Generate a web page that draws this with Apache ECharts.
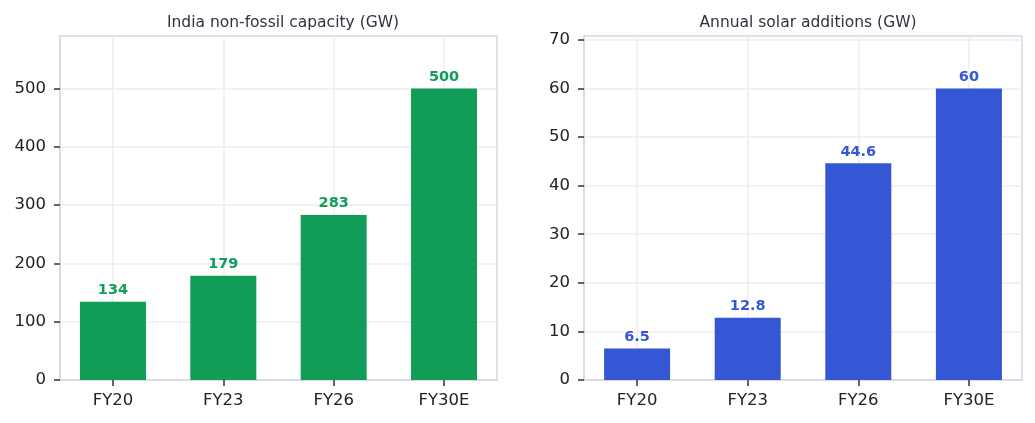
<!DOCTYPE html>
<html>
<head>
<meta charset="utf-8">
<script src="https://cdn.jsdelivr.net/npm/echarts@6/dist/echarts.min.js"></script>
<style>
    html, body { margin: 0; padding: 0; background: #fff; }
    #chart { width: 1035px; height: 423px; }
</style>
</head>
<body>
<div id="chart"></div>
<script>
var categories = ["FY20", "FY23", "FY26", "FY30E"];
var capacityValues = [134, 179, 283, 500];
var solarValues = [6.5, 12.8, 44.6, 60];
var capacityTicks = [0, 100, 200, 300, 400, 500];
var solarTicks = [0, 10, 20, 30, 40, 50, 60, 70];
var titles = ["India non-fossil capacity (GW)", "Annual solar additions (GW)"];

var green = "#119d58";
var blue = "#3557d5";
var frameColor = "#d3d8e2";
var gridColor = "#eceef3";
var tickColor = "#333";
var font = "'DejaVu Sans'";

var myChart = echarts.init(document.getElementById("chart"));

function xAxisFor(idx) {
    return {
        type: "value",
        gridIndex: idx,
        min: -0.48,
        max: 3.48,
        axisLine: { show: true, onZero: false, lineStyle: { color: frameColor, width: 1.5 } },
        axisTick: {
            show: true,
            inside: false,
            length: 6,
            customValues: [0, 1, 2, 3],
            lineStyle: { color: tickColor, width: 1.5 }
        },
        axisLabel: {
            customValues: [0, 1, 2, 3],
            formatter: function (v) { return categories[Math.round(v)]; },
            margin: 12,
            fontFamily: font,
            fontSize: 16.5,
            color: "#222"
        },
        splitLine: { show: true, lineStyle: { color: gridColor, width: 1.5 } }
    };
}

function yAxisFor(idx, max, ticks) {
    return {
        type: "value",
        gridIndex: idx,
        min: 0,
        max: max,
        axisLine: { show: true, onZero: false, lineStyle: { color: frameColor, width: 1.5 } },
        axisTick: {
            show: true,
            length: 6,
            customValues: ticks,
            lineStyle: { color: tickColor, width: 1.5 }
        },
        axisLabel: {
            customValues: ticks,
            margin: 14,
            fontFamily: font,
            fontSize: 16.5,
            color: "#222"
        },
        splitLine: { show: true, lineStyle: { color: gridColor, width: 1.5 } }
    };
}

function barSeries(idx, values, color) {
    return {
        type: "bar",
        xAxisIndex: idx,
        yAxisIndex: idx,
        barWidth: 66,
        data: values.map(function (v, i) { return [i, v]; }),
        itemStyle: { color: color },
        label: {
            show: true,
            position: "top",
            distance: 4,
            formatter: function (p) { return p.value[1]; },
            fontFamily: font,
            fontWeight: "bold",
            fontSize: 14.5,
            color: color
        }
    };
}

var option = {
    animation: false,
    title: [
        {
            text: titles[0],
            left: 278, top: 10, textAlign: "center",
            textStyle: { fontFamily: font, fontSize: 15.5, fontWeight: "normal", color: "#2d3340" }
        },
        {
            text: titles[1],
            left: 803, top: 10, textAlign: "center",
            textStyle: { fontFamily: font, fontSize: 15.5, fontWeight: "normal", color: "#2d3340" }
        }
    ],
    grid: [
        { left: 60, right: 538, top: 36, bottom: 43, show: true, borderColor: frameColor, borderWidth: 1.5 },
        { left: 584, right: 13, top: 36, bottom: 43, show: true, borderColor: frameColor, borderWidth: 1.5 }
    ],
    xAxis: [xAxisFor(0), xAxisFor(1)],
    yAxis: [yAxisFor(0, 590, capacityTicks), yAxisFor(1, 70.8, solarTicks)],
    series: [
        barSeries(0, capacityValues, green),
        barSeries(1, solarValues, blue)
    ]
};

myChart.setOption(option);
</script>
</body>
</html>
